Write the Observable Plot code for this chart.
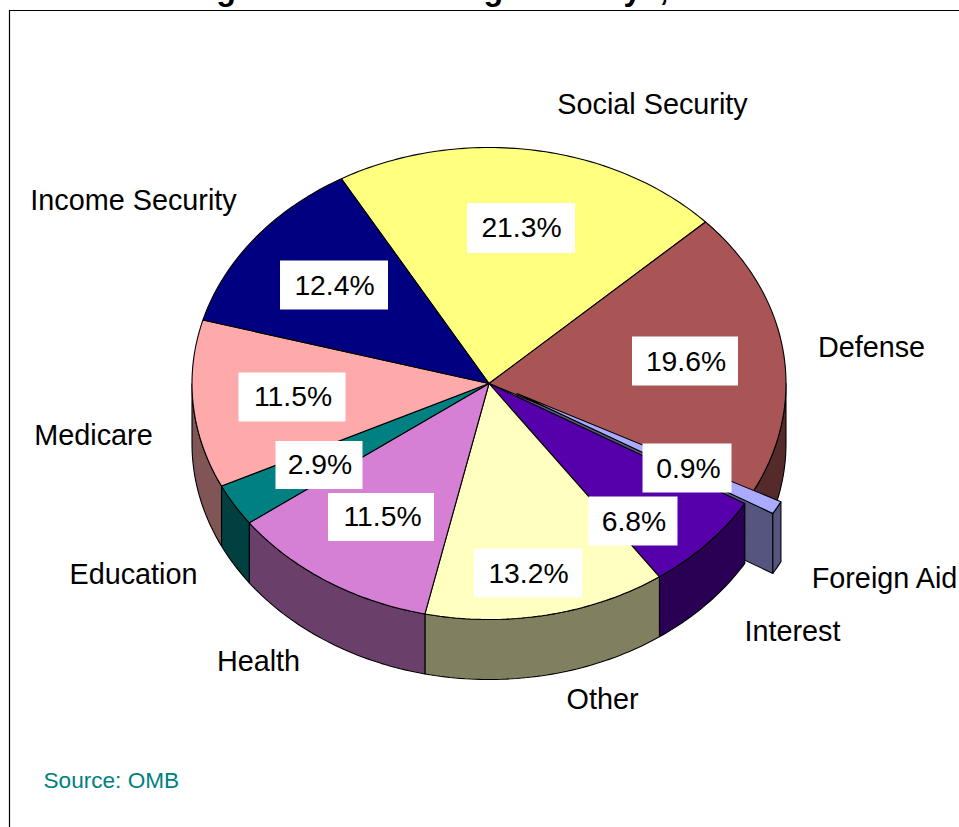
<!DOCTYPE html>
<html>
<head>
<meta charset="utf-8">
<style>html,body{margin:0;padding:0;background:#fff}svg{display:block}</style>
<script src="https://cdn.jsdelivr.net/npm/d3@7"></script>
<script src="https://cdn.jsdelivr.net/npm/@observablehq/plot@0.6"></script>
</head>
<body>
<div id="chart"></div>
<script>
const titleText = "Figure 10. U.S. Budget Outlays, FY 98";
const sourceText = "Source: OMB";
const categories = ["Social Security","Defense","Foreign Aid","Interest","Other","Health","Education","Medicare","Income Security"];
const shares = [21.3,19.6,0.9,6.8,13.2,11.5,2.9,11.5,12.4];
const percentLabels = ["21.3%","19.6%","0.9%","6.8%","13.2%","11.5%","2.9%","11.5%","12.4%"];
const topColors = ["#FFFF80","#AA5555","#AAAAFF","#5500AA","#FFFFC0","#D580D5","#008080","#FFAAAA","#000080"];
const wallColors = ["#808040","#552A2A","#555580","#2A0055","#808060","#6A406A","#004040","#805555","#000040"];

// layout, separate from the values
const W = 959, H = 827;
const pie = {cx:488.5, cy:383, rx:297, ry:236, depth:60, start:119.8, explodedIndex:2, dx:28, dy:10};
const categoryCenters = [[652,104],[871,347],[884,578],[792,631],[602,699],[258,661],[133,574],[93,435],[133,200]];
const percentCenters = [[521,227.5],[685.5,361],[688,468],[633.5,521],[528,573],[382,516.5],[319.5,464.5],[292.5,396.5],[334,285]];
const percentBoxSizes = [[108,50],[106,49],[89,49],[89,49],[108,49],[106,48],[87,48],[107,49],[108,49]];
const boxCenters = [[521,228],[685,361],[687,468],[633,521],[528,573],[381,517],[319,465],[292,397],[334,285]];

const total = d3.sum(shares);
const rad = d => d * Math.PI / 180;
const onRim = (t, ox=0, oy=0, down=0) => [pie.cx + ox + pie.rx*Math.cos(rad(t)), pie.cy + oy - pie.ry*Math.sin(rad(t)) + down];
function arcPoints(a, b, ox, oy, down){ // a > b, clockwise
  const n = Math.max(1, Math.ceil(a-b));
  return d3.range(n+1).map(i => onRim(a + (b-a)*i/n, ox, oy, down));
}
let angle = pie.start;
const slices = shares.map((s,i) => {
  const a = angle, b = angle - s/total*360; angle = b;
  return {i, a, b};
});
const polys = [];
const addPoly = (name, fill, pts) => polys.push({name, fill, pts:[...pts, pts[0]]});
function addWall(s){
  const ox = s.i===pie.explodedIndex?pie.dx:0, oy = s.i===pie.explodedIndex?pie.dy:0;
  // visible front of the cylinder: parametric angle between 0 and -180
  const a = Math.min(s.a, 0), b = Math.max(s.b, -180);
  if (a <= b) return;
  addPoly(categories[s.i]+" wall", wallColors[s.i], [...arcPoints(a,b,ox,oy,0), ...arcPoints(a,b,ox,oy,pie.depth).reverse()]);
}
function addTop(s){
  const ox = s.i===pie.explodedIndex?pie.dx:0, oy = s.i===pie.explodedIndex?pie.dy:0;
  addPoly(categories[s.i]+" top", topColors[s.i], [[pie.cx+ox,pie.cy+oy], ...arcPoints(s.a,s.b,ox,oy,0)]);
}
// back to front
addWall(slices[1]);
// exploded slice: radial cut face and rim
const ex = slices[pie.explodedIndex];
const p0 = [pie.cx+pie.dx, pie.cy+pie.dy], p1 = onRim(ex.b, pie.dx, pie.dy);
addPoly("exploded cut", wallColors[2], [p0, p1, [p1[0], p1[1]+pie.depth], [p0[0], p0[1]+pie.depth]]);
addWall(ex);
[3,4,5,6,7].forEach(i => addWall(slices[i]));
[0,1,3,4,5,6,7,8].forEach(i => addTop(slices[i]));
addTop(ex);

const polyRows = polys.flatMap(p => p.pts.map(([x,y]) => ({x,y,name:p.name,fill:p.fill})));
const boxes = boxCenters.map(([x,y],i) => ({x1:x-percentBoxSizes[i][0]/2, x2:x+percentBoxSizes[i][0]/2, y1:y-percentBoxSizes[i][1]/2, y2:y+percentBoxSizes[i][1]/2}));
const fontStack = "'Liberation Sans', Arial, sans-serif";

const chart = Plot.plot({
  width: W, height: H, margin: 0,
  x: {domain:[0,W], range:[0,W], axis:null},
  y: {domain:[0,H], range:[0,H], axis:null},
  color: {type:"identity"},
  style: {fontFamily: fontStack, background:"#fff"},
  marks: [
    Plot.ruleY([10], {x1:9, x2:W, stroke:"#000", strokeWidth:1.2}),
    Plot.ruleX([9], {y1:10, y2:H, stroke:"#000", strokeWidth:1.2}),
    Plot.line(polyRows, {x:"x", y:"y", z:"name", fill:"fill", stroke:"#000", strokeWidth:1.1, curve:"linear", strokeLinejoin:"miter"}),
    Plot.rect(boxes, {x1:"x1", x2:"x2", y1:"y1", y2:"y2", fill:"#fff"}),
    Plot.text(percentLabels, {x:(d,i)=>percentCenters[i][0], y:(d,i)=>percentCenters[i][1], text:d=>d, fontSize:28.3, fill:"#000", lineAnchor:"middle"}),
    Plot.text(categories, {x:(d,i)=>categoryCenters[i][0], y:(d,i)=>categoryCenters[i][1], text:d=>d, fontSize:28.8, fill:"#000", lineAnchor:"middle"}),
    Plot.text([sourceText], {x:43, y:780.5, text:d=>d, fontSize:22.6, fill:"#008080", textAnchor:"start", lineAnchor:"middle"}),
    Plot.text([titleText], {x:187, y:-11, text:d=>d, fontSize:32.3, fontWeight:"bold", fill:"#000", textAnchor:"start", lineAnchor:"middle"})
  ]
});
document.getElementById("chart").appendChild(chart);
</script>
</body>
</html>
